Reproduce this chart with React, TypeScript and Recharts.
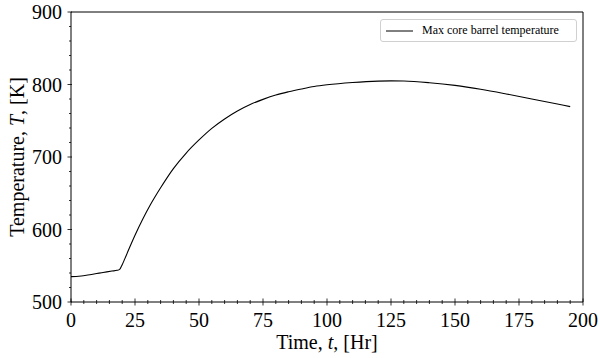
import React from "react"
import {
  LineChart,
  Line,
  XAxis,
  YAxis,
  Legend,
  ReferenceLine,
} from "recharts"

// time [Hr] and max core barrel temperature [K]
const hours = [
  0, 2, 4, 6, 8, 10, 12, 14, 16, 18, 19, 20, 21, 22, 25, 28, 31, 35, 40, 45,
  50, 55, 60, 65, 70, 75, 80, 85, 90, 95, 100, 110, 120, 125, 130, 140, 150,
  160, 170, 180, 190, 195,
]
const coreBarrelTemp = [
  535, 535.2, 535.8, 536.8, 538, 539.2, 540.4, 541.6, 542.7, 543.7, 545, 551.5,
  559.5, 567.8, 592, 614, 634, 657.5, 684, 705.5, 723.5, 739.5, 752.5, 763.5,
  772.5, 779.5, 785.5, 790, 793.8, 797.2, 799.6, 802.8, 804.7, 805, 804.8,
  802.5, 798.8, 793.5, 787, 780, 773, 769.5,
]

const xTicks = [
  0, 5, 10, 15, 20, 25, 30, 35, 40, 45, 50, 55, 60, 65, 70, 75, 80, 85, 90, 95,
  100, 105, 110, 115, 120, 125, 130, 135, 140, 145, 150, 155, 160, 165, 170,
  175, 180, 185, 190, 195, 200,
]
const yTicks = [
  500, 520, 540, 560, 580, 600, 620, 640, 660, 680, 700, 720, 740, 760, 780,
  800, 820, 840, 860, 880, 900,
]

const seriesName = "Max core barrel temperature"
const FONT = "'Liberation Serif', 'Times New Roman', serif"

const data = hours.map((t, i) => ({ t, temp: coreBarrelTemp[i] }))

function XTick({ x, y, payload }: any) {
  const major = payload.value % 25 === 0
  return (
    <g>
      <line
        x1={x}
        x2={x}
        y1={y - (major ? 3.5 : 2)}
        y2={y + (major ? 3.5 : 2)}
        stroke="#000"
        strokeWidth={0.8}
      />
      {major && (
        <text
          x={x}
          y={y + 25}
          textAnchor="middle"
          fontSize={20}
          fontFamily={FONT}
          fill="#000"
        >
          {payload.value}
        </text>
      )}
    </g>
  )
}

function YTick({ x, y, payload }: any) {
  const major = payload.value % 100 === 0
  return (
    <g>
      <line
        x1={x - (major ? 3.5 : 2)}
        x2={x + (major ? 1 : 0)}
        y1={y}
        y2={y}
        stroke="#000"
        strokeWidth={0.8}
      />
      {major && (
        <text
          x={x - 9}
          y={y + 7}
          textAnchor="end"
          fontSize={20}
          fontFamily={FONT}
          fill="#000"
        >
          {payload.value}
        </text>
      )}
    </g>
  )
}

function XLabel({ viewBox }: any) {
  const cx = viewBox.x + viewBox.width / 2
  return (
    <text
      x={cx}
      y={349}
      textAnchor="middle"
      fontSize={20}
      fontFamily={FONT}
      fill="#000"
    >
      Time, <tspan fontStyle="italic">t</tspan>, [Hr]
    </text>
  )
}

function YLabel({ viewBox }: any) {
  const cy = viewBox.y + viewBox.height / 2
  return (
    <text
      x={0}
      y={0}
      transform={`translate(24, ${cy}) rotate(-90)`}
      textAnchor="middle"
      fontSize={20}
      fontFamily={FONT}
      fill="#000"
    >
      Temperature, <tspan fontStyle="italic">T</tspan>, [K]
    </text>
  )
}

function LegendBox() {
  return (
    <div
      style={{
        boxSizing: "border-box",
        width: 197,
        height: 23,
        border: "1px solid #d0d0d0",
        borderRadius: 3,
        background: "rgba(255,255,255,0.8)",
        display: "flex",
        alignItems: "center",
        paddingLeft: 5,
        fontFamily: FONT,
        fontSize: 12,
        color: "#000",
        whiteSpace: "nowrap",
      }}
    >
      <svg width={27} height={4}>
        <line x1={0} x2={27} y1={2} y2={2} stroke="#000" strokeWidth={1} />
      </svg>
      <span style={{ marginLeft: 9 }}>{seriesName}</span>
    </div>
  )
}

export default function App() {
  return (
    <div style={{ width: 600, height: 358, background: "#fff" }}>
      <style>{"body{margin:0}"}</style>
      <LineChart
        width={600}
        height={358}
        data={data}
        margin={{ top: 12, right: 17, left: 0, bottom: 0 }}
      >
        <XAxis
          dataKey="t"
          type="number"
          domain={[0, 200]}
          ticks={xTicks}
          interval={0}
          height={56}
          tickSize={0}
          tickMargin={0}
          tickLine={false}
          tick={<XTick />}
          axisLine={{ stroke: "#000", strokeWidth: 1 }}
          label={<XLabel />}
        />
        <YAxis
          type="number"
          domain={[500, 900]}
          ticks={yTicks}
          interval={0}
          width={71}
          tickSize={0}
          tickMargin={0}
          tickLine={false}
          tick={<YTick />}
          axisLine={{ stroke: "#000", strokeWidth: 1 }}
          label={<YLabel />}
        />
        <ReferenceLine y={900} stroke="#000" strokeWidth={1} />
        <ReferenceLine x={200} stroke="#000" strokeWidth={1} />
        <Legend
          layout="vertical"
          align="center"
          verticalAlign="middle"
          content={<LegendBox />}
          wrapperStyle={{ left: 380, top: 19, width: 197, height: 23 }}
        />
        <Line
          type="monotone"
          dataKey="temp"
          name={seriesName}
          stroke="#000"
          strokeWidth={1.1}
          dot={false}
          activeDot={false}
          isAnimationActive={false}
        />
      </LineChart>
    </div>
  )
}
